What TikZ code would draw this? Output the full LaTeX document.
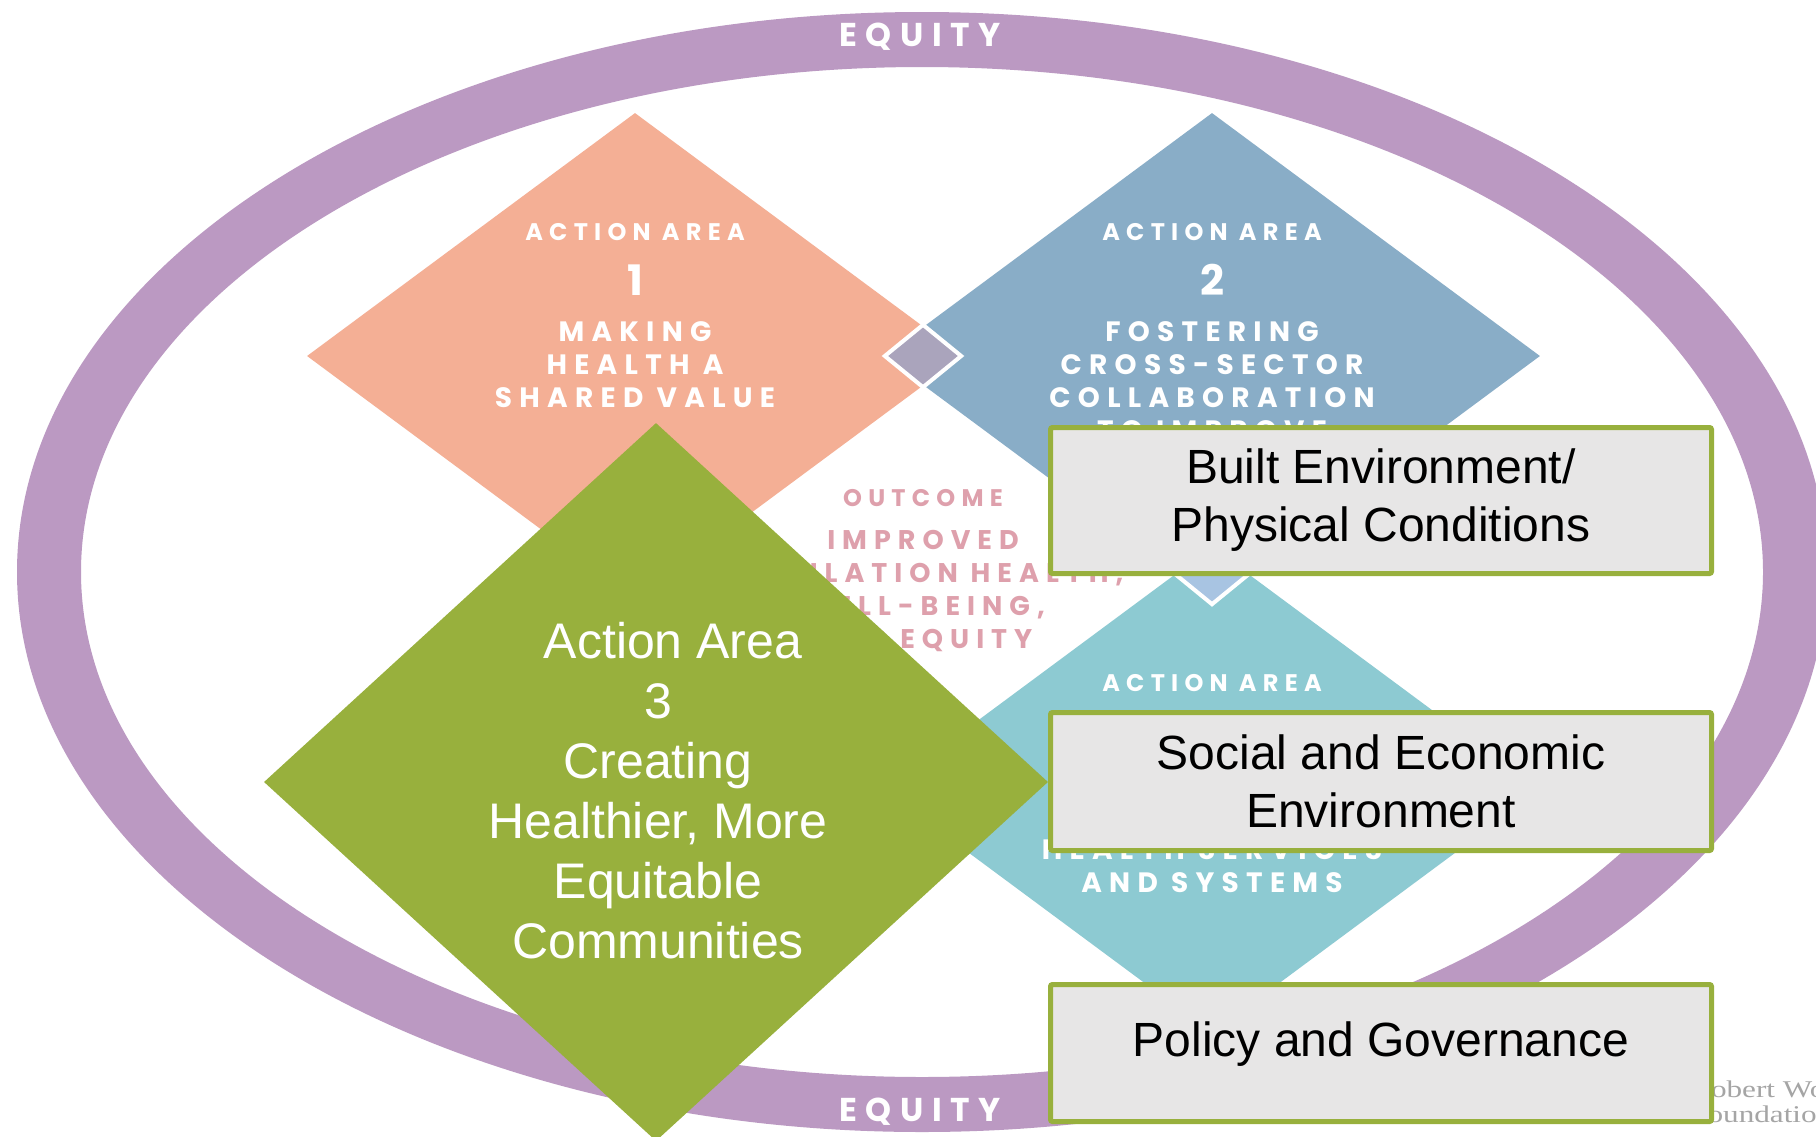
\documentclass[tikz,border=0pt]{standalone}
\usepackage{fontspec}
\setmainfont{Liberation Sans}
\newfontfamily\capsfont[LetterSpace=26]{Poppins}
\newfontfamily\logofont[FakeStretch=1.3]{Liberation Serif}
\usetikzlibrary{shapes.geometric}

\definecolor{ringpurple}{RGB}{187,153,194}
\definecolor{salmon}{RGB}{244,175,149}
\definecolor{steelblue}{RGB}{137,173,199}
\definecolor{aqua}{RGB}{141,202,210}
\definecolor{jointgray}{RGB}{170,164,188}
\definecolor{jointblue}{RGB}{168,196,226}
\definecolor{leafgreen}{RGB}{152,176,61}
\definecolor{boxgray}{RGB}{231,230,230}
\definecolor{rose}{RGB}{222,160,172}
\definecolor{logogray}{RGB}{165,165,165}

\begin{document}
\begin{tikzpicture}[x=1pt, y=1pt,
    area/.style={diamond, inner sep=0pt, minimum width=656pt, minimum height=486pt},
    joint/.style={diamond, draw=white, line width=4pt, inner sep=0pt, minimum width=78pt, minimum height=64pt},
    equity/.style={text=white, inner sep=0pt, font=\capsfont\bfseries\fontsize{33}{36}\selectfont},
    head/.style={text=white, inner sep=0pt, font=\capsfont\bfseries\fontsize{24}{28}\selectfont},
    num/.style={text=white, inner sep=0pt, font=\capsfont\bfseries\fontsize{42}{48}\selectfont},
    body/.style={text=white, align=center, anchor=north, inner sep=0pt, font=\capsfont\bfseries\fontsize{28}{33}\selectfont},
    factor/.style={rectangle, draw=leafgreen, line width=5pt, fill=boxgray, rounded corners=2pt,
      minimum width=661pt, align=center, font=\fontsize{48}{58}\selectfont},
  ]
  \useasboundingbox (0,0) rectangle (1816,-1136);
  \fill[white] (0,0) rectangle (1816,-1136);

  % equity ring
  \fill[ringpurple, even odd rule] (922,-572) ellipse [x radius=905pt, y radius=560pt]
    (922,-572) ellipse [x radius=841pt, y radius=505pt];
  \node[equity] (eqtop) at (920,-37) {EQUITY};
  \node[equity] (eqbot) at (920,-1112) {EQUITY};

  % action areas
  \node[area, fill=salmon] (area1) at (635,-356) {};
  \node[area, fill=steelblue] (area2) at (1212,-356) {};
  \node[area, fill=aqua] (area4) at (1212,-790) {};
  \node[joint, fill=jointgray] (join12) at (923,-356) {};
  \node[joint, fill=jointblue] (join24) at (1212,-573) {};

  \node[head] (head1) at (635,-232) {ACTION AREA};
  \node[num] (num1) at (635,-280) {1};
  \node[body] (body1) at (635,-321) {MAKING\\HEALTH A\\SHARED VALUE};

  \node[head] (head2) at (1212,-232) {ACTION AREA};
  \node[num] (num2) at (1212,-280) {2};
  \node[body] (body2) at (1212,-321) {FOSTERING\\CROSS-SECTOR\\COLLABORATION\\TO IMPROVE\\WELL-BEING};

  \node[head] (head4) at (1212,-683) {ACTION AREA};
  \node[num] (num4) at (1212,-732) {4};
  \node[body] (body4) at (1212,-773) {STRENGTHENING\\INTEGRATION OF\\HEALTH SERVICES\\AND SYSTEMS};

  % outcome
  \node[head, text=rose] (outhead) at (923,-498) {OUTCOME};
  \node[body, text=rose, font=\capsfont\bfseries\fontsize{27}{33}\selectfont] (outbody) at (923,-530)
    {IMPROVED\\POPULATION HEALTH,\\WELL-BEING,\\AND EQUITY};

  \node[text=logogray, anchor=north west, inner sep=0pt, align=left,
    font=\logofont\fontsize{24}{25}\selectfont] (rwjf) at (1690,-1081) {Robert Wood Johnson\\Foundation};

  % action area 3 on top
  \node[diamond, inner sep=0pt, minimum width=784pt, minimum height=718pt, fill=leafgreen] (area3) at (656,-782) {};
  \node[text=white, align=center, anchor=north, inner sep=0pt, font=\fontsize{50}{60}\selectfont]
    (area3text) at (658,-622) {\hspace*{30pt}Action Area\\3\\Creating\\Healthier, More\\Equitable\\Communities};

  % factors
  \node[factor, minimum height=146pt] (built) at (1381,-500.5) {Built Environment/\\Physical Conditions};
  \node[factor, minimum height=138pt] (social) at (1381,-781.5) {Social and Economic\\Environment};
  \node[factor, minimum height=137pt] (policy) at (1381,-1053) {Policy and Governance\rule[-28pt]{0pt}{0pt}};
\end{tikzpicture}
\end{document}
